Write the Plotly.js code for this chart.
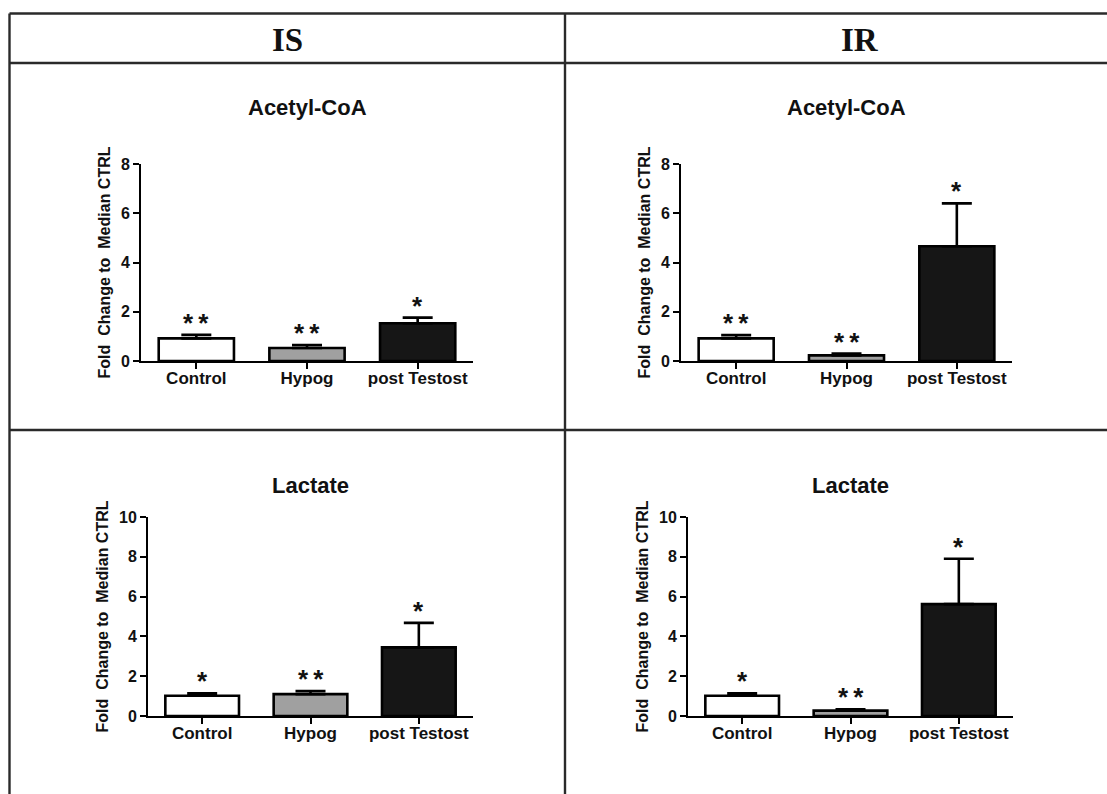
<!DOCTYPE html>
<html>
<head>
<meta charset="utf-8">
<script src="https://cdn.plot.ly/plotly-3.0.1.min.js"></script>
<style>html,body{margin:0;padding:0;background:#fff;}#chart{width:1107px;height:794px;}</style>
</head>
<body>
<div id="chart"></div>
<script>
// ---- data ----
const categories = ["Control", "Hypog", "post Testost"];
const columnHeaders = ["IS", "IR"];
const panelTitles = ["Acetyl-CoA", "Acetyl-CoA", "Lactate", "Lactate"];
const yTitle = "Fold\u00a0 Change to\u00a0 Median CTRL";

const isAcetyl = [0.92, 0.53, 1.53];
const isAcetylErr = [0.14, 0.12, 0.23];
const irAcetyl = [0.92, 0.23, 4.66];
const irAcetylErr = [0.13, 0.07, 1.74];
const isLactate = [1.02, 1.10, 3.45];
const isLactateErr = [0.12, 0.16, 1.23];
const irLactate = [1.02, 0.27, 5.62];
const irLactateErr = [0.12, 0.07, 2.28];

const starsIsAcetyl = ["**", "**", "*"];
const starsIrAcetyl = ["**", "**", "*"];
const starsIsLactate = ["*", "**", "*"];
const starsIrLactate = ["*", "**", "*"];

const yMaxAcetyl = 8;
const yMaxLactate = 10;

// ---- styling ----
const W = 1107, H = 794;
const px = v => v / W;
const py = v => 1 - v / H;
const barColors = ["#ffffff", "#a0a0a0", "#161616"];
const sansBold = "Liberation Sans, Arial, sans-serif";

const panels = [
  {vals: isAcetyl, errs: isAcetylErr, stars: starsIsAcetyl, ymax: yMaxAcetyl, x0: 141, x1: 473, yTop: 164, yBot: 361, titleY: 107},
  {vals: irAcetyl, errs: irAcetylErr, stars: starsIrAcetyl, ymax: yMaxAcetyl, x0: 681, x1: 1012, yTop: 164, yBot: 361, titleY: 107},
  {vals: isLactate, errs: isLactateErr, stars: starsIsLactate, ymax: yMaxLactate, x0: 148, x1: 473, yTop: 517, yBot: 716, titleY: 485},
  {vals: irLactate, errs: irLactateErr, stars: starsIrLactate, ymax: yMaxLactate, x0: 688, x1: 1013, yTop: 517, yBot: 716, titleY: 485}
];

const traces = [];
const layout = {
  width: W, height: H,
  margin: {l: 0, r: 0, t: 0, b: 0},
  paper_bgcolor: "#ffffff",
  plot_bgcolor: "rgba(0,0,0,0)",
  showlegend: false,
  annotations: [],
  shapes: []
};

panels.forEach((p, i) => {
  const n = i + 1;
  const xa = "x" + (n === 1 ? "" : n);
  const ya = "y" + (n === 1 ? "" : n);
  traces.push({
    type: "bar",
    x: categories,
    y: p.vals,
    xaxis: xa, yaxis: ya,
    width: 0.68,
    marker: {color: barColors, line: {color: "#000000", width: 2.6}},
    error_y: {type: "data", symmetric: false, array: p.errs, arrayminus: p.errs.map(() => 0),
              color: "#000000", thickness: 2.6, width: 15},
    hoverinfo: "skip"
  });
  const axX = {
    domain: [px(p.x0), px(p.x1)],
    anchor: ya,
    range: [-0.5, 2.5],
    showline: true, linecolor: "#000000", linewidth: 2,
    ticks: "outside", ticklen: 6, tickwidth: 2, tickcolor: "#000000",
    ticklabelstandoff: -5,
    showgrid: false, zeroline: false,
    tickfont: {family: sansBold, size: 17, color: "#111111", weight: "bold"},
    fixedrange: true
  };
  const axY = {
    domain: [py(p.yBot), py(p.yTop)],
    anchor: xa,
    range: [0, p.ymax],
    dtick: 2,
    showline: true, linecolor: "#000000", linewidth: 2,
    ticks: "outside", ticklen: 6, tickwidth: 2, tickcolor: "#000000",
    showgrid: false, zeroline: false,
    tickfont: {family: sansBold, size: 16, color: "#111111", weight: "bold"},
    title: {text: yTitle, font: {family: sansBold, size: 16, color: "#111111", weight: "bold"}, standoff: 6},
    fixedrange: true
  };
  layout["xaxis" + (n === 1 ? "" : n)] = axX;
  layout["yaxis" + (n === 1 ? "" : n)] = axY;

  layout.annotations.push({
    xref: "paper", yref: "paper",
    x: px((p.x0 + p.x1) / 2), y: py(p.titleY),
    xanchor: "center", yanchor: "middle",
    text: panelTitles[i], showarrow: false,
    font: {family: sansBold, size: 22, color: "#111111", weight: "bold"}
  });

  categories.forEach((c, j) => {
    layout.annotations.push({
      xref: xa, yref: ya,
      x: c, y: p.vals[j] + p.errs[j],
      xanchor: "center", yanchor: "bottom",
      yshift: -5,
      text: p.stars[j].split("").join("\u2009"),
      showarrow: false,
      font: {family: sansBold, size: 26, color: "#111111", weight: "bold"}
    });
  });
});

// column headers
[287, 860].forEach((cx, k) => {
  layout.annotations.push({
    xref: "paper", yref: "paper",
    x: px(cx), y: py(40),
    xanchor: "center", yanchor: "middle",
    text: columnHeaders[k], showarrow: false,
    font: {family: "Liberation Serif, DejaVu Serif, serif", size: 33, color: "#111111", weight: "bold"}
  });
});

// table grid lines
const lineStyle = {color: "#2a2a2a", width: 2.4};
[[9.5, 13.5, W, 13.5], [9.5, 63, W, 63], [9.5, 430, W, 430], [9.5, 13.5, 9.5, H], [565, 13.5, 565, H]].forEach(l => {
  layout.shapes.push({type: "line", xref: "paper", yref: "paper",
    x0: px(l[0]), y0: py(l[1]), x1: px(l[2]), y1: py(l[3]), line: lineStyle});
});

Plotly.newPlot("chart", traces, layout, {displayModeBar: false, staticPlot: true});
</script>
</body>
</html>
